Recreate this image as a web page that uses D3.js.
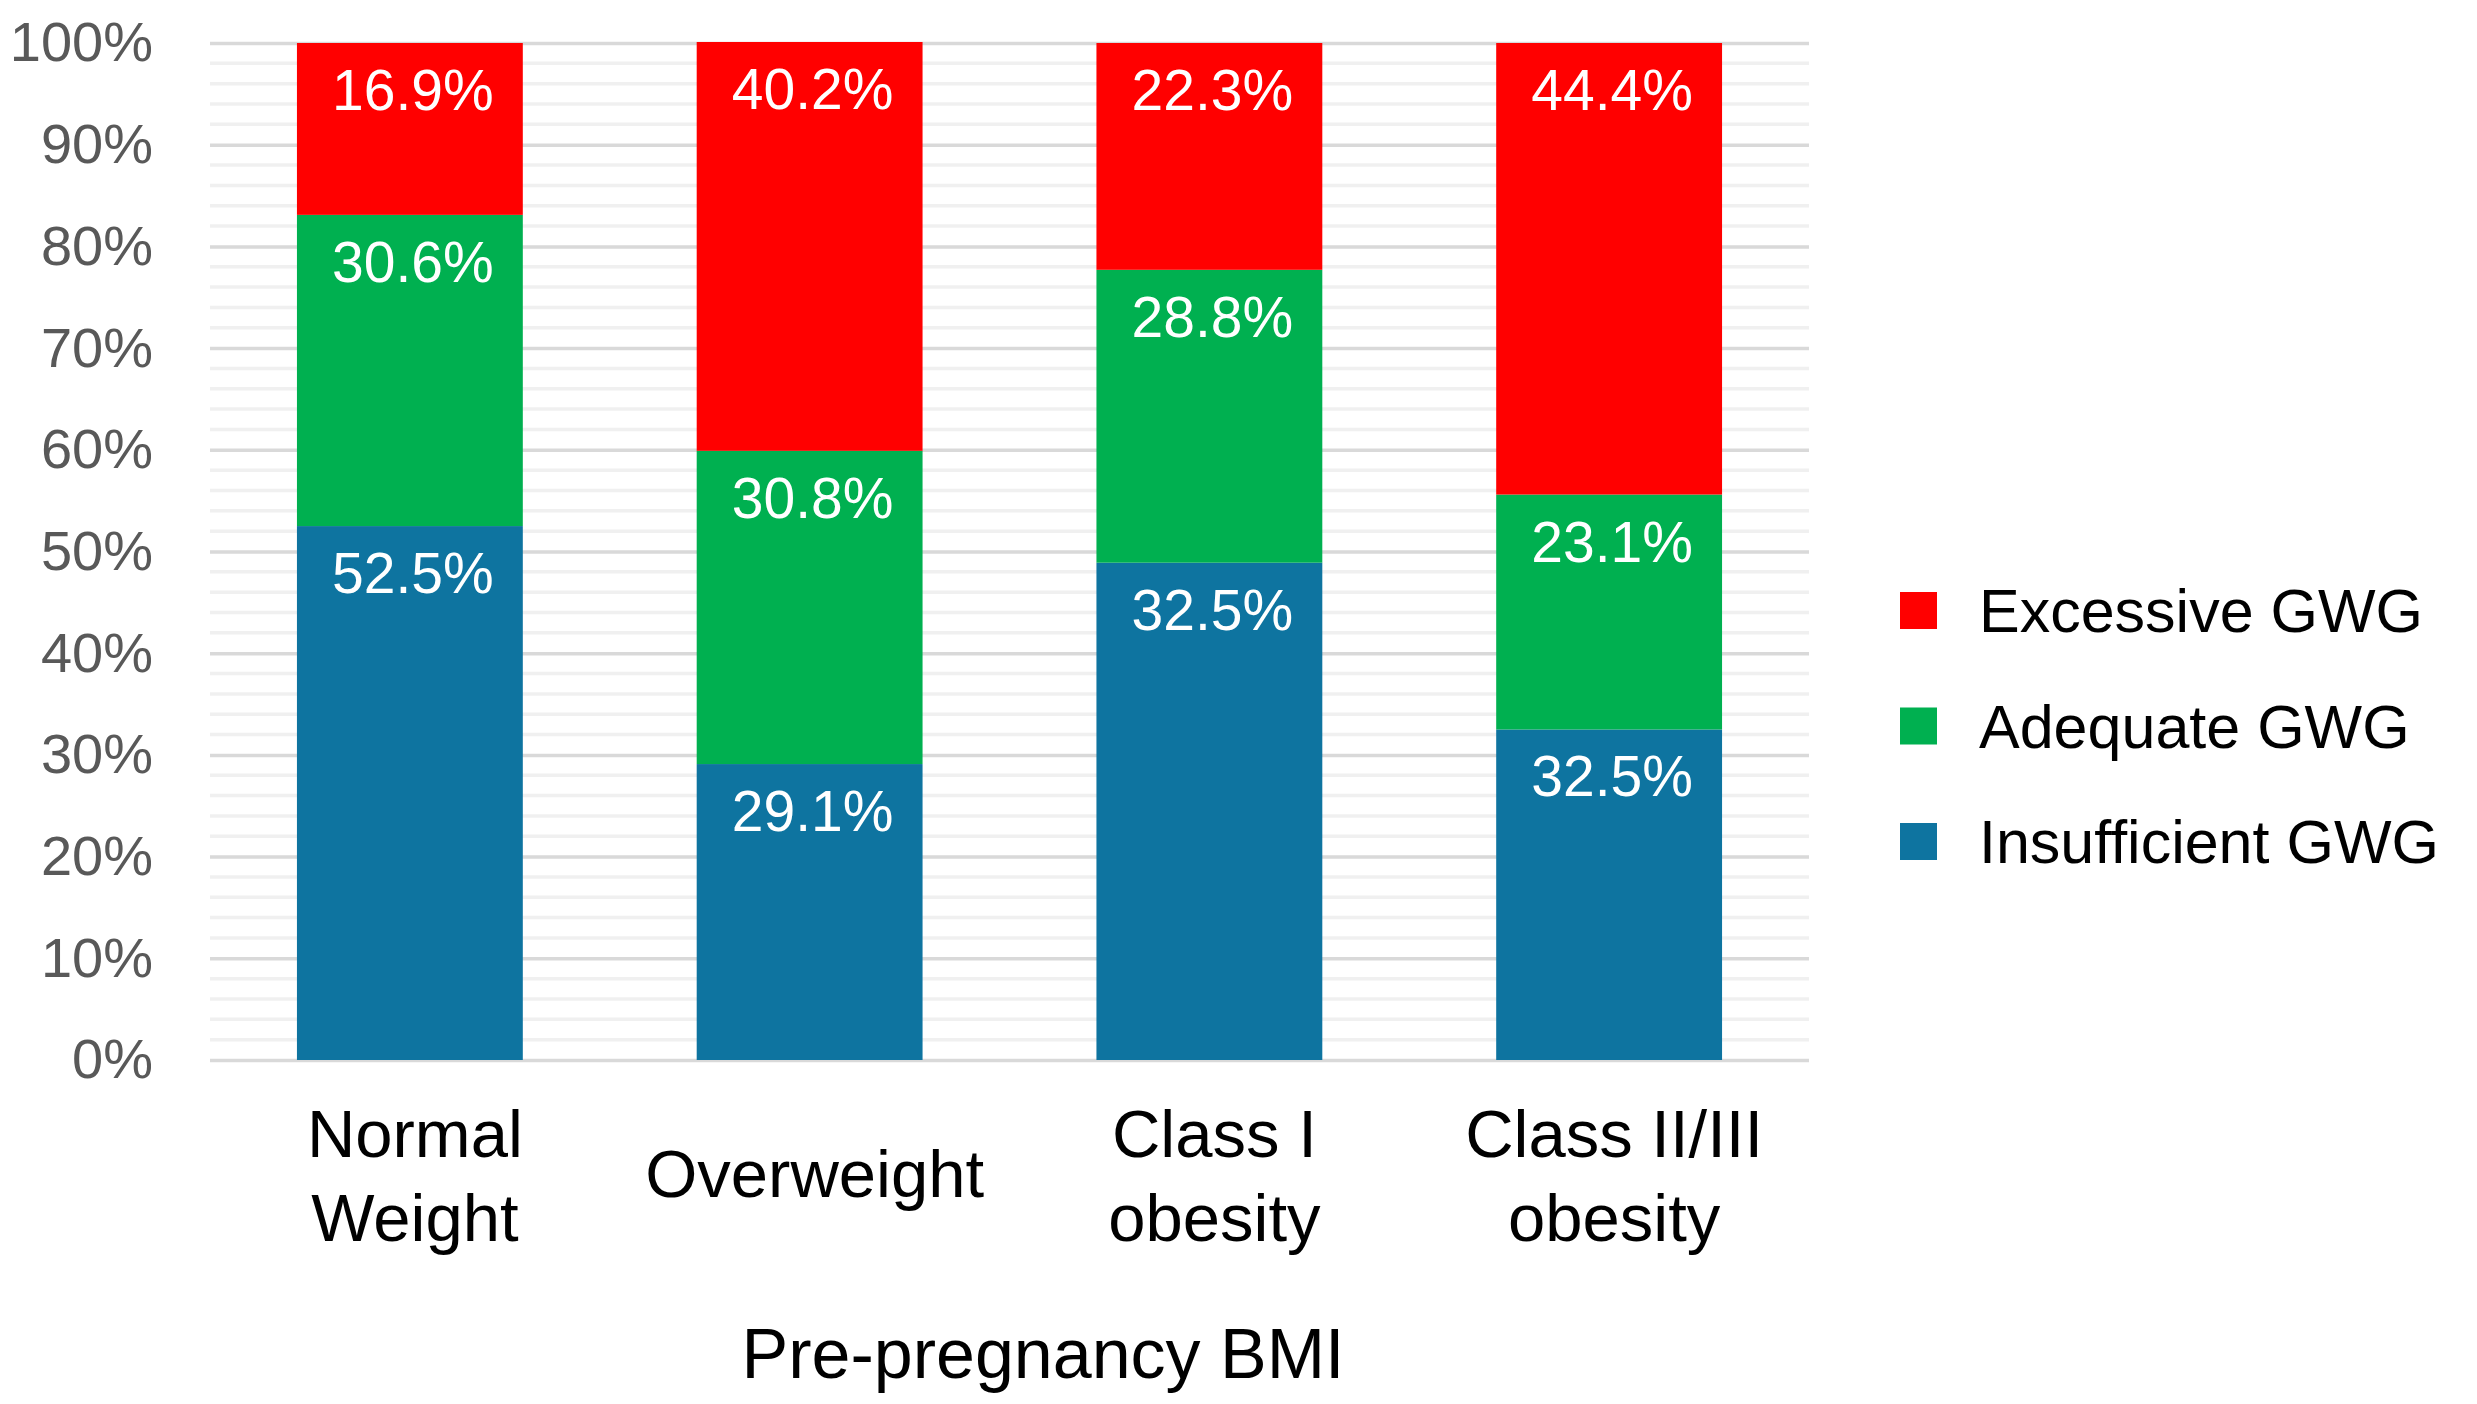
<!DOCTYPE html>
<html lang="en">
<head>
	<meta charset="utf-8">
	<style>
		body{
		  margin:0; padding:0;
		  background-color:#ffffff;
		}
		text{
		  font-family:"Liberation Sans", Arial, sans-serif;
		}
	</style>
</head>
<body>
<div id="chart"></div>
<script src="https://cdn.jsdelivr.net/npm/d3@7"></script>
<script type="text/javascript">
	// categories and stacked series (bottom to top)
	var categories=["Normal Weight","Overweight","Class I obesity","Class II/III obesity"];
	var categoryLines=[["Normal","Weight"],["Overweight"],["Class I","obesity"],["Class II/III","obesity"]];
	var seriesNames=["Insufficient GWG","Adequate GWG","Excessive GWG"];
	var seriesColors=["#0E74A0","#00B050","#FF0000"];
	var insufficient=[52.5,29.1,48.9,32.5];
	var adequate=[30.6,30.8,28.8,23.1];
	var excessive=[16.9,40.2,22.3,44.4];
	// label texts as printed on the bars
	var insufficientLabels=["52.5%","29.1%","32.5%","32.5%"];
	var adequateLabels=["30.6%","30.8%","28.8%","23.1%"];
	var excessiveLabels=["16.9%","40.2%","22.3%","44.4%"];
	var yTicks=[0,10,20,30,40,50,60,70,80,90,100];
	var xTitle="Pre-pregnancy BMI";

	var W=2477,H=1404;
	var plotLeft=210,plotRight=1809,plotTop=43,plotBottom=1060;

	var svg=d3.select("#chart").append("svg")
		.attr("width",W)
		.attr("height",H)
		.style("display","block");
	svg.append("rect").attr("width",W).attr("height",H).attr("fill","#fff");

	var x=d3.scaleBand().domain(categories).range([plotLeft,plotRight]).paddingInner(0.435).paddingOuter(0.2175);
	var y=d3.scaleLinear().domain([0,100]).range([plotBottom,plotTop]);

	// minor gridlines every 2%
	var minor=d3.range(0,101,2).filter(function(v){return v%10!==0;});
	svg.append("g").selectAll("line").data(minor).enter().append("line")
		.attr("x1",plotLeft).attr("x2",plotRight)
		.attr("y1",function(d){return y(d);}).attr("y2",function(d){return y(d);})
		.attr("stroke","#f0f0f0").attr("stroke-width",3.5);

	// major gridlines + y labels via axis
	var yAxis=d3.axisLeft(y).tickValues(yTicks).tickSize(-(plotRight-plotLeft)).tickPadding(57)
		.tickFormat(function(d){return d+"%";});
	var gy=svg.append("g").attr("transform","translate("+plotLeft+",0)").call(yAxis);
	gy.select(".domain").remove();
	gy.selectAll(".tick line").attr("stroke","#d9d9d9").attr("stroke-width",3.5);
	gy.selectAll(".tick text")
		.attr("fill","#595959")
		.style("font-size","56px")
		.style("font-family","'Liberation Sans', Arial, sans-serif");

	// stacked data
	var rows=categories.map(function(c,i){
		return {cat:c,"Insufficient GWG":insufficient[i],"Adequate GWG":adequate[i],"Excessive GWG":excessive[i],
			labels:[insufficientLabels[i],adequateLabels[i],excessiveLabels[i]]};
	});
	var stack=d3.stack().keys(seriesNames)(rows);

	var layers=svg.append("g").selectAll("g").data(stack).enter().append("g")
		.attr("fill",function(d,i){return seriesColors[i];});
	layers.selectAll("rect").data(function(d){return d;}).enter().append("rect")
		.attr("x",function(d){return x(d.data.cat);})
		.attr("width",x.bandwidth())
		.attr("y",function(d){return y(d[1]);})
		.attr("height",function(d){return y(d[0])-y(d[1]);});

	// data labels near the top of each segment
	stack.forEach(function(layer,si){
		svg.append("g").selectAll("text").data(layer).enter().append("text")
			.attr("x",function(d){return x(d.data.cat)+x.bandwidth()/2+3;})
			.attr("y",function(d){return y(d[1])+67;})
			.attr("text-anchor","middle")
			.attr("fill","#fff")
			.style("font-size","57px")
			.text(function(d){return d.data.labels[si];});
	});

	// x category labels
	var xl=svg.append("g").selectAll("text").data(categories).enter().append("text")
		.attr("text-anchor","middle")
		.attr("fill","#000")
		.style("font-size","67px")
		.attr("x",function(d){return x(d)+x.bandwidth()/2+5;});
	xl.each(function(d,i){
		var lines=categoryLines[i];
		var t=d3.select(this);
		var startY=lines.length===1?1174+23:1134+23;
		lines.forEach(function(s,k){
			t.append("tspan").attr("x",x(d)+x.bandwidth()/2+5).attr("y",startY+k*84).text(s);
		});
	});

	// axis title
	svg.append("text")
		.attr("x",1043).attr("y",1378)
		.attr("text-anchor","middle")
		.attr("fill","#000")
		.style("font-size","70px")
		.text(xTitle);

	// legend (reverse order)
	var legendNames=seriesNames.slice().reverse();
	var legendColors=seriesColors.slice().reverse();
	var lg=svg.append("g").selectAll("g").data(legendNames).enter().append("g")
		.attr("transform",function(d,i){return "translate(1900,"+(611+i*115.5)+")";});
	lg.append("rect")
		.attr("x",0).attr("y",-19).attr("width",37).attr("height",37)
		.attr("fill",function(d,i){return legendColors[i];});
	lg.append("text")
		.attr("x",79).attr("y",21)
		.attr("fill","#000")
		.style("font-size","61px")
		.text(function(d){return d;});
</script>
</body>
</html>
